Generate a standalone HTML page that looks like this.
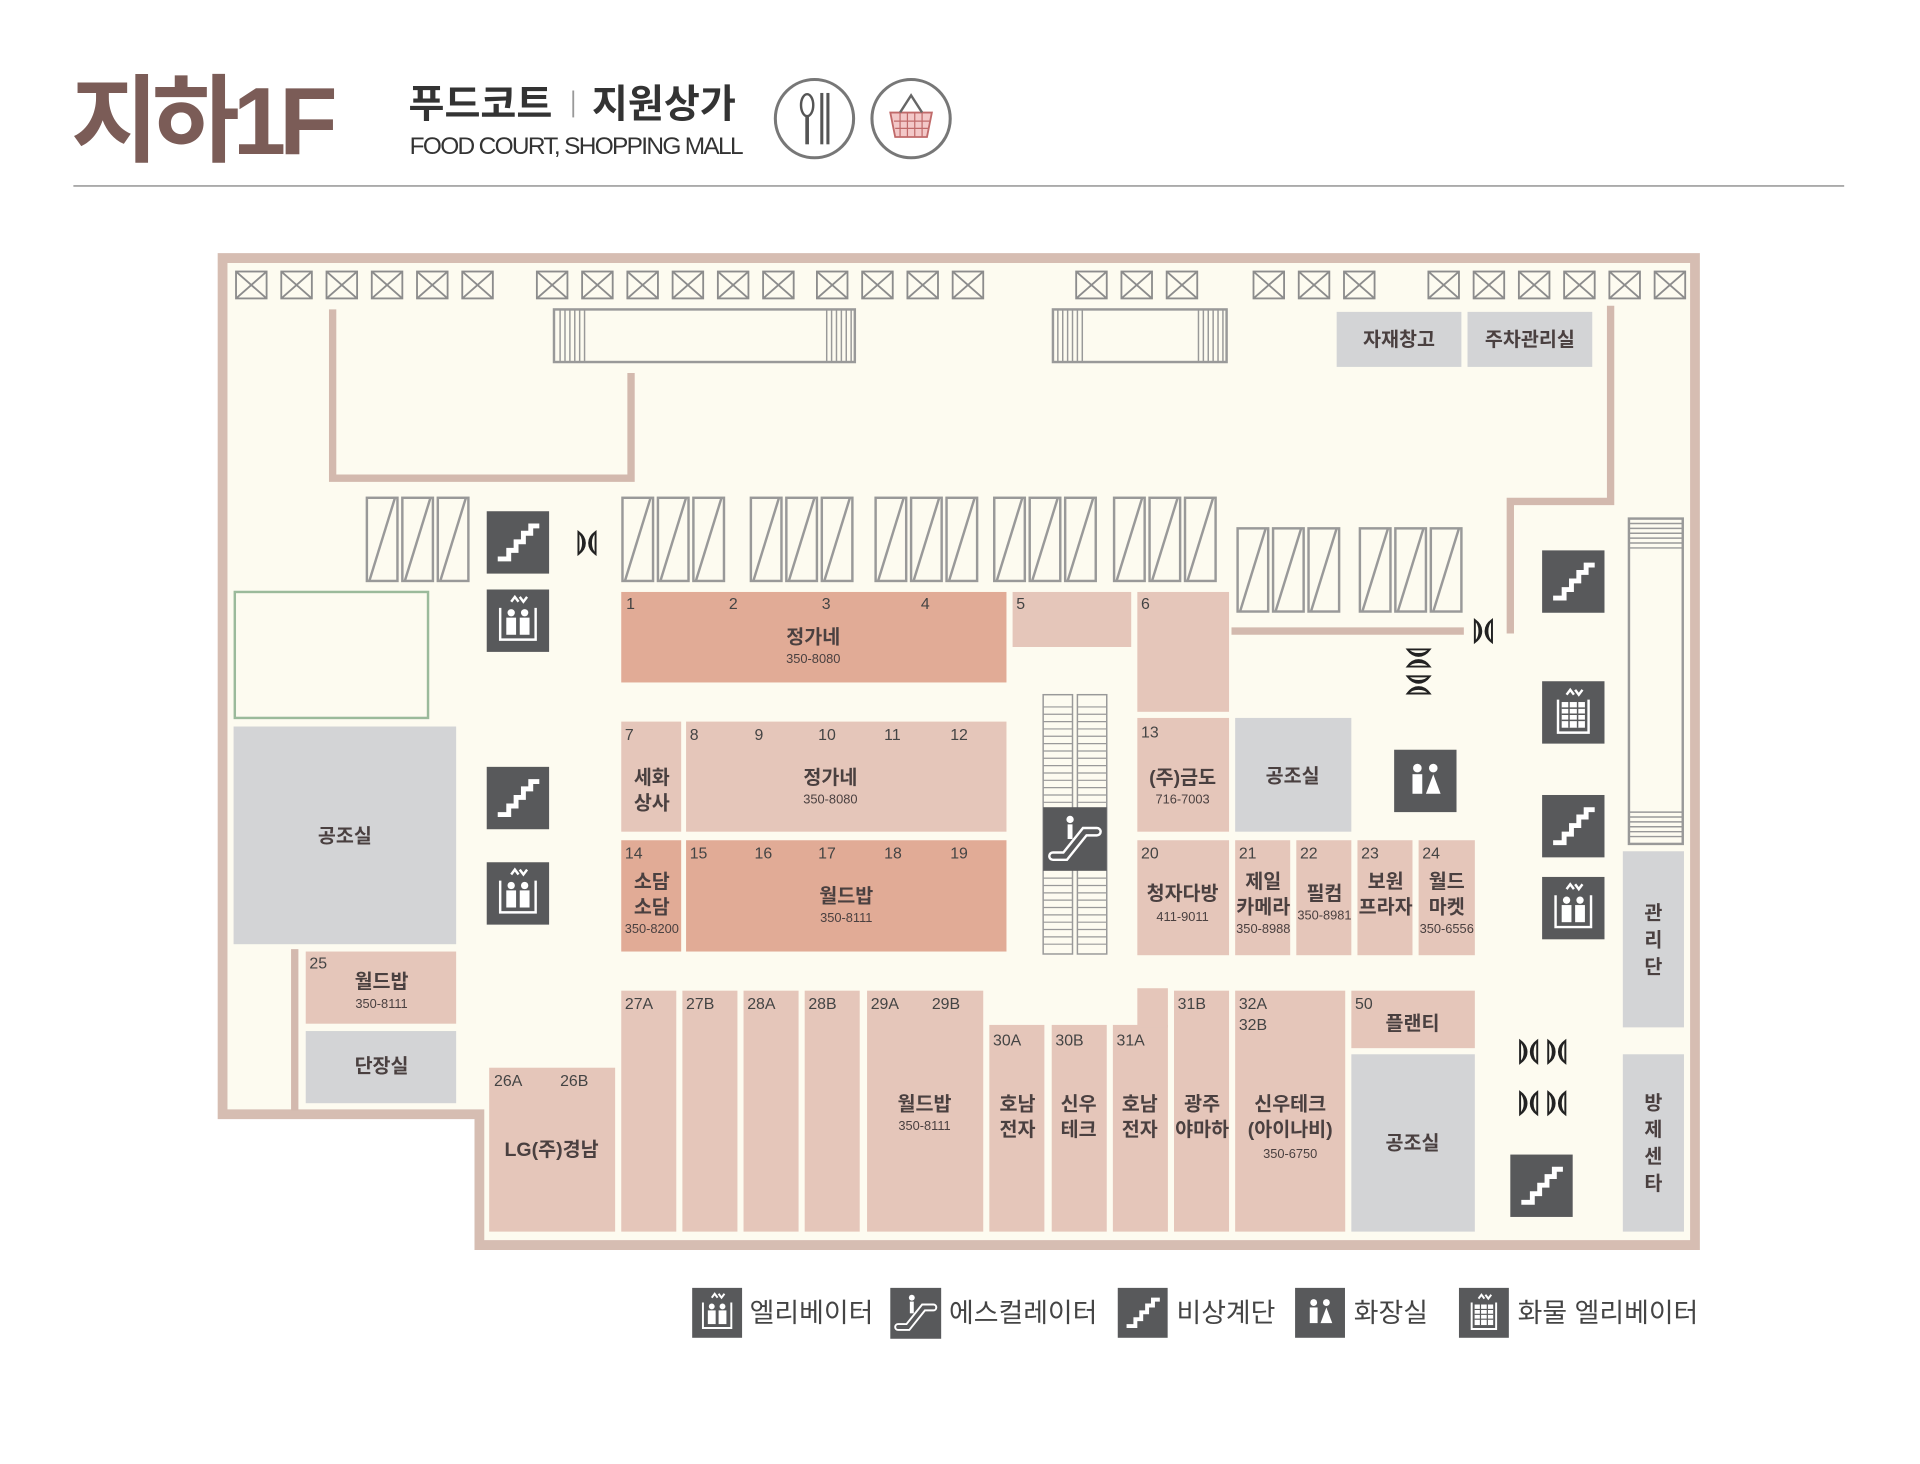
<!DOCTYPE html>
<html><head><meta charset="utf-8"><style>
html,body{margin:0;padding:0;background:#fff;}
svg{display:block}
text{font-family:"Liberation Sans","Noto Sans CJK KR",sans-serif;}
.n{font-size:13px;fill:#444;}
.l{font-size:16px;font-weight:bold;fill:#4a4040;text-anchor:middle;}
.p{font-size:10.5px;fill:#4a4040;text-anchor:middle;}
.lt{fill:#e5c6ba}.dk{fill:#e1ab96}.gr{fill:#d3d4d6}
.xb rect{fill:none;stroke:#8c8c8c;stroke-width:1.5}
.xb line{stroke:#8c8c8c;stroke-width:1.5}
.wall{stroke:#d3b9ae;stroke-width:6;fill:none}
.lg{font-size:22px;fill:#444;}
</style></head><body>
<svg width="1920" height="1464" viewBox="0 0 1570 1197" preserveAspectRatio="none" xmlns="http://www.w3.org/2000/svg">
<defs>
<g id="xb" class="xb"><rect x="0" y="0" width="25" height="22"/><line x1="0" y1="0" x2="25" y2="22"/><line x1="25" y1="0" x2="0" y2="22"/></g>
<g id="pu"><rect x="0" y="0" width="25" height="68" fill="none" stroke="#999" stroke-width="2"/><line x1="2" y1="68" x2="23" y2="0" stroke="#999" stroke-width="2"/></g>
<g id="pg"><use href="#pu" x="0"/><use href="#pu" x="29"/><use href="#pu" x="58"/></g>
<g id="st"><rect width="51" height="51" fill="#58595b"/><polyline points="9,39 18,39 18,32 24,32 24,25 30,25 30,18 36,18 36,12 43,12" fill="none" stroke="#fff" stroke-width="4"/></g>
<g id="el"><rect width="51" height="51" fill="#58595b"/><path d="M11,15 V41 H40 V15" fill="none" stroke="#fff" stroke-width="2"/><path d="M20,10 l3,-4 l3,4 M27,6 l3,4 l3,-4" fill="none" stroke="#fff" stroke-width="2"/><circle cx="20" cy="19" r="3" fill="#fff"/><circle cx="31" cy="19" r="3" fill="#fff"/><rect x="16" y="23" width="8" height="14" fill="#fff"/><rect x="27" y="23" width="8" height="14" fill="#fff"/></g>
<g id="fe"><rect width="51" height="51" fill="#58595b"/><path d="M13,15 V42 H38 V15" fill="none" stroke="#fff" stroke-width="2"/><path d="M20,11 l3,-4 l3,4 M27,7 l3,4 l3,-4" fill="none" stroke="#fff" stroke-width="2"/><rect x="16" y="17" width="19" height="21" fill="#fff"/><path d="M16,22H35M16,27H35M16,32H35M22,17V38M29,17V38" stroke="#58595b" stroke-width="1.2"/></g>
<g id="wc"><rect width="51" height="51" fill="#58595b"/><circle cx="19" cy="15" r="3.5" fill="#fff"/><circle cx="32" cy="15" r="3.5" fill="#fff"/><rect x="15" y="20" width="8" height="16" fill="#fff"/><path d="M32,20 L38,36 H26 Z" fill="#fff"/></g>
<g id="es"><rect width="52" height="52" fill="#58595b"/><path d="M8,40 H18 L34,20 H44" fill="none" stroke="#fff" stroke-width="8" stroke-linecap="round"/><path d="M8,40 H18 L34,20 H44" fill="none" stroke="#58595b" stroke-width="4" stroke-linecap="round"/><circle cx="22" cy="10" r="3" fill="#fff"/><rect x="20" y="14" width="4" height="12" fill="#fff"/></g>
<g id="dr"><path d="M-7,-9 V9 C-2,5 -2,-5 -7,-9 Z M7,-9 V9 C2,5 2,-5 7,-9 Z M-7,-9 C0,-4 0,4 -7,9 M7,-9 C0,-4 0,4 7,9" fill="none" stroke="#222" stroke-width="1.6"/></g>
<g id="drv"><g transform="rotate(90)"><use href="#dr"/></g></g>
</defs>

<!-- header -->
<text x="58" y="126" font-size="78" font-weight="bold" fill="#7b5c57" textLength="218">지하1F</text>
<text x="334" y="96" font-size="32" font-weight="bold" fill="#333">푸드코트</text>
<rect x="468" y="74" width="1.5" height="22" fill="#999"/>
<text x="484" y="96" font-size="32" font-weight="bold" fill="#333">지원상가</text>
<text x="335" y="126" font-size="20" fill="#333" textLength="273">FOOD COURT, SHOPPING MALL</text>
<circle cx="666" cy="97" r="32" fill="#fff" stroke="#777" stroke-width="2.5"/>
<ellipse cx="660" cy="86" rx="5" ry="9" fill="none" stroke="#555" stroke-width="2"/><line x1="660" y1="95" x2="660" y2="118" stroke="#555" stroke-width="3"/>
<line x1="672" y1="76" x2="672" y2="118" stroke="#555" stroke-width="2.5"/><line x1="677" y1="76" x2="677" y2="118" stroke="#555" stroke-width="2.5"/>
<circle cx="745" cy="97" r="32" fill="#fff" stroke="#777" stroke-width="2.5"/>
<path d="M728,92 H762 L758,112 H732 Z" fill="#f3c8c8" stroke="#c06a6a" stroke-width="1.5"/><path d="M736,92 L745,78 L754,92" fill="none" stroke="#666" stroke-width="2"/>
<path d="M731,99H760M732,105H759M736,92V112M742,92V112M748,92V112M754,92V112" stroke="#c06a6a" stroke-width="1"/>
<line x1="60" y1="152" x2="1508" y2="152" stroke="#aaa" stroke-width="1.5"/>

<!-- floor -->
<path d="M182,211 H1386 V1018 H392 V911 H182 Z" fill="#fdfbf0" stroke="#d6bdb2" stroke-width="8"/>

<!-- X boxes -->
<g transform="translate(0,222)">
<use href="#xb" x="193"/><use href="#xb" x="230"/><use href="#xb" x="267"/><use href="#xb" x="304"/><use href="#xb" x="341"/><use href="#xb" x="378"/>
<use href="#xb" x="439"/><use href="#xb" x="476"/><use href="#xb" x="513"/><use href="#xb" x="550"/><use href="#xb" x="587"/><use href="#xb" x="624"/>
<use href="#xb" x="668"/><use href="#xb" x="705"/><use href="#xb" x="742"/><use href="#xb" x="779"/>
<use href="#xb" x="880"/><use href="#xb" x="917"/><use href="#xb" x="954"/>
<use href="#xb" x="1025"/><use href="#xb" x="1062"/><use href="#xb" x="1099"/>
<use href="#xb" x="1168"/><use href="#xb" x="1205"/><use href="#xb" x="1242"/><use href="#xb" x="1279"/><use href="#xb" x="1316"/><use href="#xb" x="1353"/>
</g>

<!-- top rects -->
<rect x="453" y="253" width="246" height="43" fill="none" stroke="#999" stroke-width="2"/>
<path d="M458,253V296M462,253V296M466,253V296M470,253V296M474,253V296M478,253V296M676,253V296M680,253V296M684,253V296M688,253V296M692,253V296M696,253V296" stroke="#999" stroke-width="1.2"/>
<rect x="861" y="253" width="142" height="43" fill="none" stroke="#999" stroke-width="2"/>
<path d="M865,253V296M869,253V296M873,253V296M877,253V296M881,253V296M885,253V296M980,253V296M984,253V296M988,253V296M992,253V296M996,253V296M1000,253V296" stroke="#999" stroke-width="1.2"/>
<rect x="1093" y="255" width="102" height="45" class="gr"/><text x="1144" y="283" class="l">자재창고</text>
<rect x="1200" y="255" width="102" height="45" class="gr"/><text x="1251" y="283" class="l">주차관리실</text>

<!-- walls -->
<polyline class="wall" points="272,253 272,391 516,391 516,305"/>
<polyline class="wall" points="1317,250 1317,410 1235,410 1235,518"/>
<line class="wall" x1="1007" y1="516" x2="1197" y2="516"/>
<line class="wall" x1="241" y1="776" x2="241" y2="908"/>

<!-- parallelogram groups -->
<g transform="translate(0,407)"><use href="#pg" x="300"/><use href="#pg" x="509"/><use href="#pg" x="614"/><use href="#pg" x="716"/><use href="#pg" x="813"/><use href="#pg" x="911"/></g>
<g transform="translate(0,432)"><use href="#pg" x="1012"/><use href="#pg" x="1112"/></g>

<!-- right vertical rect -->
<rect x="1332" y="424" width="44" height="266" fill="none" stroke="#999" stroke-width="2"/>
<path d="M1332,428H1376M1332,432H1376M1332,436H1376M1332,440H1376M1332,444H1376M1332,448H1376M1332,664H1376M1332,668H1376M1332,672H1376M1332,676H1376M1332,680H1376M1332,684H1376" stroke="#999" stroke-width="1.2"/>

<!-- left areas -->
<rect x="192" y="484" width="158" height="103" fill="none" stroke="#9bba9b" stroke-width="2"/>
<rect x="191" y="594" width="182" height="178" class="gr"/><text x="282" y="689" class="l">공조실</text>
<rect x="250" y="778" width="123" height="59" class="lt"/><text x="253" y="792" class="n">25</text><text x="312" y="808" class="l">월드밥</text><text x="312" y="824" class="p">350-8111</text>
<rect x="250" y="843" width="123" height="59" class="gr"/><text x="312" y="877" class="l">단장실</text>

<!-- stores block -->
<rect x="508" y="484" width="315" height="74" class="dk"/>
<text x="512" y="498" class="n">1</text><text x="596" y="498" class="n">2</text><text x="672" y="498" class="n">3</text><text x="753" y="498" class="n">4</text>
<text x="665" y="526" class="l">정가네</text><text x="665" y="542" class="p">350-8080</text>
<rect x="828" y="484" width="97" height="45" class="lt"/><text x="831" y="498" class="n">5</text>
<rect x="930" y="484" width="75" height="98" class="lt"/><text x="933" y="498" class="n">6</text>

<rect x="508" y="590" width="49" height="90" class="lt"/><text x="511" y="605" class="n">7</text><text x="533" y="641" class="l">세화</text><text x="533" y="662" class="l">상사</text>
<rect x="561" y="590" width="262" height="90" class="lt"/>
<text x="564" y="605" class="n">8</text><text x="617" y="605" class="n">9</text><text x="669" y="605" class="n">10</text><text x="723" y="605" class="n">11</text><text x="777" y="605" class="n">12</text>
<text x="679" y="641" class="l">정가네</text><text x="679" y="657" class="p">350-8080</text>

<rect x="508" y="687" width="49" height="91" class="dk"/><text x="511" y="702" class="n">14</text><text x="533" y="726" class="l">소담</text><text x="533" y="747" class="l">소담</text><text x="533" y="763" class="p">350-8200</text>
<rect x="561" y="687" width="262" height="91" class="dk"/>
<text x="564" y="702" class="n">15</text><text x="617" y="702" class="n">16</text><text x="669" y="702" class="n">17</text><text x="723" y="702" class="n">18</text><text x="777" y="702" class="n">19</text>
<text x="692" y="738" class="l">월드밥</text><text x="692" y="754" class="p">350-8111</text>

<!-- escalator -->
<g fill="none" stroke="#999" stroke-width="1.2">
<rect x="853" y="568" width="24" height="212"/><rect x="881" y="568" width="24" height="212"/>
</g>
<g stroke="#999" stroke-width="1">
<path d="M853,578H877M853,584H877M853,590H877M853,596H877M853,602H877M853,608H877M853,614H877M853,620H877M853,626H877M853,632H877M853,638H877M853,644H877M853,650H877M853,656H877M881,578H905M881,584H905M881,590H905M881,596H905M881,602H905M881,608H905M881,614H905M881,620H905M881,626H905M881,632H905M881,638H905M881,644H905M881,650H905M881,656H905"/>
<path d="M853,718H877M853,724H877M853,730H877M853,736H877M853,742H877M853,748H877M853,754H877M853,760H877M853,766H877M853,772H877M881,718H905M881,724H905M881,730H905M881,736H905M881,742H905M881,748H905M881,754H905M881,760H905M881,766H905M881,772H905"/>
</g>
<use href="#es" x="853" y="660"/>

<rect x="930" y="587" width="75" height="93" class="lt"/><text x="933" y="603" class="n">13</text><text x="967" y="641" class="l">(주)금도</text><text x="967" y="657" class="p">716-7003</text>
<rect x="1010" y="587" width="95" height="93" class="gr"/><text x="1057" y="640" class="l">공조실</text>

<rect x="930" y="687" width="75" height="94" class="lt"/><text x="933" y="702" class="n">20</text><text x="967" y="736" class="l">청자다방</text><text x="967" y="753" class="p">411-9011</text>
<rect x="1010" y="687" width="45" height="94" class="lt"/><text x="1013" y="702" class="n">21</text><text x="1033" y="726" class="l">제일</text><text x="1033" y="747" class="l">카메라</text><text x="1033" y="763" class="p">350-8988</text>
<rect x="1060" y="687" width="45" height="94" class="lt"/><text x="1063" y="702" class="n">22</text><text x="1083" y="736" class="l">필컴</text><text x="1083" y="752" class="p">350-8981</text>
<rect x="1110" y="687" width="45" height="94" class="lt"/><text x="1113" y="702" class="n">23</text><text x="1133" y="726" class="l">보원</text><text x="1133" y="747" class="l">프라자</text>
<rect x="1160" y="687" width="46" height="94" class="lt"/><text x="1163" y="702" class="n">24</text><text x="1183" y="726" class="l">월드</text><text x="1183" y="747" class="l">마켓</text><text x="1183" y="763" class="p">350-6556</text>

<!-- bottom row -->
<rect x="400" y="873" width="103" height="134" class="lt"/><text x="404" y="888" class="n">26A</text><text x="458" y="888" class="n">26B</text><text x="451" y="945" class="l">LG(주)경남</text>
<rect x="508" y="810" width="45" height="197" class="lt"/><text x="511" y="825" class="n">27A</text>
<rect x="558" y="810" width="45" height="197" class="lt"/><text x="561" y="825" class="n">27B</text>
<rect x="608" y="810" width="45" height="197" class="lt"/><text x="611" y="825" class="n">28A</text>
<rect x="658" y="810" width="45" height="197" class="lt"/><text x="661" y="825" class="n">28B</text>
<rect x="709" y="810" width="95" height="197" class="lt"/><text x="712" y="825" class="n">29A</text><text x="762" y="825" class="n">29B</text><text x="756" y="908" class="l">월드밥</text><text x="756" y="924" class="p">350-8111</text>
<rect x="809" y="838" width="45" height="169" class="lt"/><text x="812" y="855" class="n">30A</text><text x="832" y="908" class="l">호남</text><text x="832" y="929" class="l">전자</text>
<rect x="860" y="838" width="45" height="169" class="lt"/><text x="863" y="855" class="n">30B</text><text x="882" y="908" class="l">신우</text><text x="882" y="929" class="l">테크</text>
<rect x="910" y="838" width="45" height="169" class="lt"/><rect x="930" y="808" width="25" height="32" class="lt"/><text x="913" y="855" class="n">31A</text><text x="932" y="908" class="l">호남</text><text x="932" y="929" class="l">전자</text>
<rect x="960" y="810" width="45" height="197" class="lt"/><text x="963" y="825" class="n">31B</text><text x="983" y="908" class="l">광주</text><text x="983" y="929" class="l">야마하</text>
<rect x="1010" y="810" width="90" height="197" class="lt"/><text x="1013" y="825" class="n">32A</text><text x="1013" y="842" class="n">32B</text><text x="1055" y="908" class="l">신우테크</text><text x="1055" y="929" class="l">(아이나비)</text><text x="1055" y="947" class="p">350-6750</text>
<rect x="1105" y="810" width="101" height="47" class="lt"/><text x="1108" y="825" class="n">50</text><text x="1155" y="842" class="l">플랜티</text>
<rect x="1105" y="862" width="101" height="145" class="gr"/><text x="1155" y="940" class="l">공조실</text>
<rect x="1327" y="696" width="50" height="144" class="gr"/><text x="1352" y="752" class="l">관</text><text x="1352" y="774" class="l">리</text><text x="1352" y="796" class="l">단</text>
<rect x="1327" y="862" width="50" height="145" class="gr"/><text x="1352" y="907" class="l">방</text><text x="1352" y="929" class="l">제</text><text x="1352" y="951" class="l">센</text><text x="1352" y="973" class="l">타</text>

<!-- icons -->
<use href="#st" x="398" y="418"/><use href="#el" x="398" y="482"/>
<use href="#st" x="398" y="627"/><use href="#el" x="398" y="705"/>
<use href="#st" x="1261" y="450"/><use href="#fe" x="1261" y="557"/>
<use href="#st" x="1261" y="650"/><use href="#el" x="1261" y="717"/>
<use href="#wc" x="1140" y="613"/><use href="#st" x="1235" y="944"/>

<!-- doors -->
<use href="#dr" x="480" y="444"/><use href="#dr" x="1213" y="516"/>
<use href="#drv" x="1160" y="538"/><use href="#drv" x="1160" y="560"/>
<use href="#dr" x="1250" y="860"/><use href="#dr" x="1273" y="860"/>
<use href="#dr" x="1250" y="902"/><use href="#dr" x="1273" y="902"/>

<!-- legend -->
<g transform="translate(566,1053) scale(0.8)"><use href="#el"/></g><text x="613" y="1081" class="lg">엘리베이터</text>
<g transform="translate(728,1053) scale(0.8)"><use href="#es"/></g><text x="776" y="1081" class="lg">에스컬레이터</text>
<g transform="translate(914,1053) scale(0.8)"><use href="#st"/></g><text x="962" y="1081" class="lg">비상계단</text>
<g transform="translate(1059,1053) scale(0.8)"><use href="#wc"/></g><text x="1107" y="1081" class="lg">화장실</text>
<g transform="translate(1193,1053) scale(0.8)"><use href="#fe"/></g><text x="1241" y="1081" class="lg">화물 엘리베이터</text>
</svg>
</body></html>
